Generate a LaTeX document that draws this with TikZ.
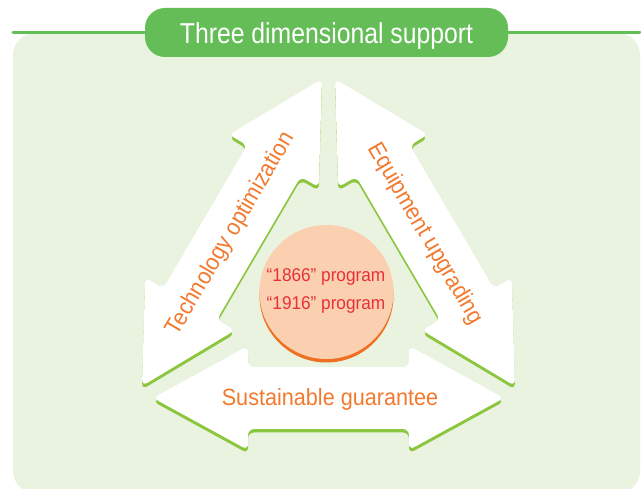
\documentclass[tikz,border=0pt]{standalone}
\usepackage{fontspec}
\setmainfont{Liberation Sans}
\newfontfamily\titlefont[FakeStretch=0.86]{Liberation Sans}
\newfontfamily\labelfont[FakeStretch=0.92]{Liberation Sans}
\newfontfamily\progfont[FakeStretch=0.93]{Liberation Sans}
\definecolor{bggreen}{HTML}{EAF3DF}
\definecolor{hdrgreen}{HTML}{64BD57}
\definecolor{shadowgreen}{HTML}{8CC63F}
\definecolor{lblorange}{HTML}{F27A2E}
\definecolor{peach}{HTML}{FBD0B0}
\definecolor{peachshadow}{HTML}{F07022}
\definecolor{progred}{HTML}{E8303A}
\newcommand{\dblarrowpath}[1]{(0,0) -- (95,52) -- (95,31) -- ({#1-95},31) -- ({#1-95},52) -- (#1,0) -- ({#1-95},-52) -- ({#1-95},-31) -- (95,-31) -- (95,-52) -- cycle}
\newcommand{\arrowat}[4]{%
  \begin{scope}[shift={(0,3.5)}]\begin{scope}[shift={(#1,#2)},rotate=#3]
    \fill[shadowgreen,rounded corners=6pt]\dblarrowpath{#4};
  \end{scope}\end{scope}
  \begin{scope}[shift={(#1,#2)},rotate=#3]
    \fill[white,rounded corners=6pt]\dblarrowpath{#4};
  \end{scope}}
\tikzset{
  lbl/.style={text=lblorange,font=\labelfont\fontsize{23.5}{26}\selectfont,inner sep=0pt},
  prog/.style={text=progred,font=\progfont\fontsize{18.5}{20}\selectfont,inner sep=0pt,anchor=base},
}
\begin{document}
\begin{tikzpicture}[x=1pt,y=-1pt]
\useasboundingbox (0,0) rectangle (641,489);
% background panel
\fill[bggreen,rounded corners=22pt] (13,33) rectangle (640,493);
\draw[hdrgreen,line width=3pt,line cap=round] (13,32.5) -- (640,32.5);
% header pill
\node[fill=hdrgreen,rounded corners=20pt,minimum width=363pt,minimum height=49pt,inner sep=0pt] (pill) at (326.5,32.5) {};
\node[text=white,font=\titlefont\fontsize{28.8}{30}\selectfont,anchor=base,inner sep=0pt] (title) at (326.5,43.3) {Three dimensional support};
% arrows
\arrowat{142}{386}{59.62}{355.88}
\arrowat{335}{79}{-59.62}{355.88}
\arrowat{153}{398}{0}{351}
% arrow labels
\node[lbl,rotate=59.62] (tech) at (231,234) {Technology optimization};
\node[lbl,rotate=-59.62] (equip) at (425,234) {Equipment upgrading};
\node[lbl] (sust) at (330,399) {Sustainable guarantee};
% centre circle
\fill[peachshadow] (326.5,295.5) circle (67pt);
\node[circle,fill=peach,minimum size=134pt,inner sep=0pt] (core) at (326.5,292) {};
\node[prog] (p1) at (326,282) {“1866” program};
\node[prog] (p2) at (326,310) {“1916” program};
\end{tikzpicture}
\end{document}
